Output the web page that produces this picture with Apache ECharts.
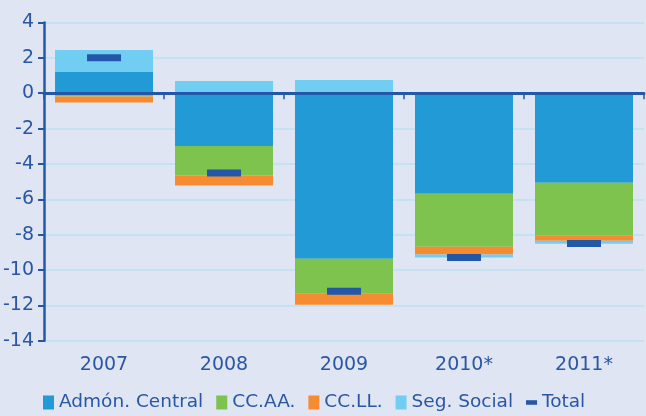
<!DOCTYPE html>
<html>
<head>
<meta charset="utf-8">
<script src="https://cdn.jsdelivr.net/npm/echarts@6/dist/echarts.min.js"></script>
<style>
  html, body { margin: 0; padding: 0; background: #dfe5f2; }
  #chart { width: 646px; height: 416px; }
</style>
</head>
<body>
<div id="chart"></div>
<script>
// values
var years = ['2007', '2008', '2009', '2010*', '2011*'];
var admonCentral = [1.2, -2.98, -9.36, -5.69, -5.07];
var ccaa = [-0.19, -1.67, -1.96, -2.99, -2.97];
var ccll = [-0.34, -0.57, -0.64, -0.45, -0.3];
var segSocial = [1.25, 0.69, 0.75, -0.17, -0.17];
var total = [2.0, -4.52, -11.2, -9.29, -8.5];

var textColor = '#2a57a3';
var axisColor = '#2358a8';
var font = 'DejaVu Sans';

var chart = echarts.init(document.getElementById('chart'));

function barSeries(name, data, color) {
  return {
    name: name,
    type: 'bar',
    stack: 'saldo',
    barWidth: 98,
    data: data,
    itemStyle: { color: color },
    z: 2
  };
}

chart.setOption({
  backgroundColor: '#dfe5f2',
  animation: false,
  grid: { left: 44, right: 2, top: 22.5, bottom: 75.3 },
  legend: {
    left: 38,
    top: 388,
    itemWidth: 11,
    itemHeight: 14,
    itemGap: 13,
    textStyle: { color: textColor, fontSize: 18.5, fontFamily: font },
    data: [
      { name: 'Admón. Central', icon: 'rect' },
      { name: 'CC.AA.', icon: 'rect' },
      { name: 'CC.LL.', icon: 'rect' },
      { name: 'Seg. Social', icon: 'rect' },
      { name: 'Total', icon: 'path://M0,0h12v5h-12z' }
    ]
  },
  xAxis: [
    {
      type: 'category',
      data: years,
      z: 3,
      axisLine: { onZero: true, lineStyle: { color: axisColor, width: 3 } },
      axisTick: { show: true, length: 6, lineStyle: { color: axisColor, width: 1.5 } },
      axisLabel: { show: false },
      splitLine: { show: false }
    },
    {
      type: 'category',
      data: years,
      position: 'bottom',
      axisLine: { show: false, onZero: false },
      axisTick: { show: false },
      axisLabel: { color: textColor, fontSize: 19, fontFamily: font, margin: 15 },
      splitLine: { show: false }
    }
  ],
  yAxis: {
    type: 'value',
    min: -14,
    max: 4,
    interval: 2,
    axisLine: { show: true, lineStyle: { color: axisColor, width: 2.5 } },
    axisTick: { show: true, length: 6, lineStyle: { color: axisColor, width: 2 } },
    axisLabel: { color: textColor, fontSize: 19, fontFamily: font, margin: 10 },
    splitLine: { lineStyle: { color: '#bde0f5', width: 1.5 } }
  },
  series: [
    barSeries('Admón. Central', admonCentral, '#229ad6'),
    barSeries('CC.AA.', ccaa, '#7dc34d'),
    barSeries('CC.LL.', ccll, '#f68b31'),
    barSeries('Seg. Social', segSocial, '#72cdf3'),
    {
      name: 'Total',
      type: 'scatter',
      symbol: 'rect',
      symbolSize: [34, 7],
      data: total,
      itemStyle: { color: axisColor, opacity: 1 },
      z: 5
    }
  ]
});
</script>
</body>
</html>
